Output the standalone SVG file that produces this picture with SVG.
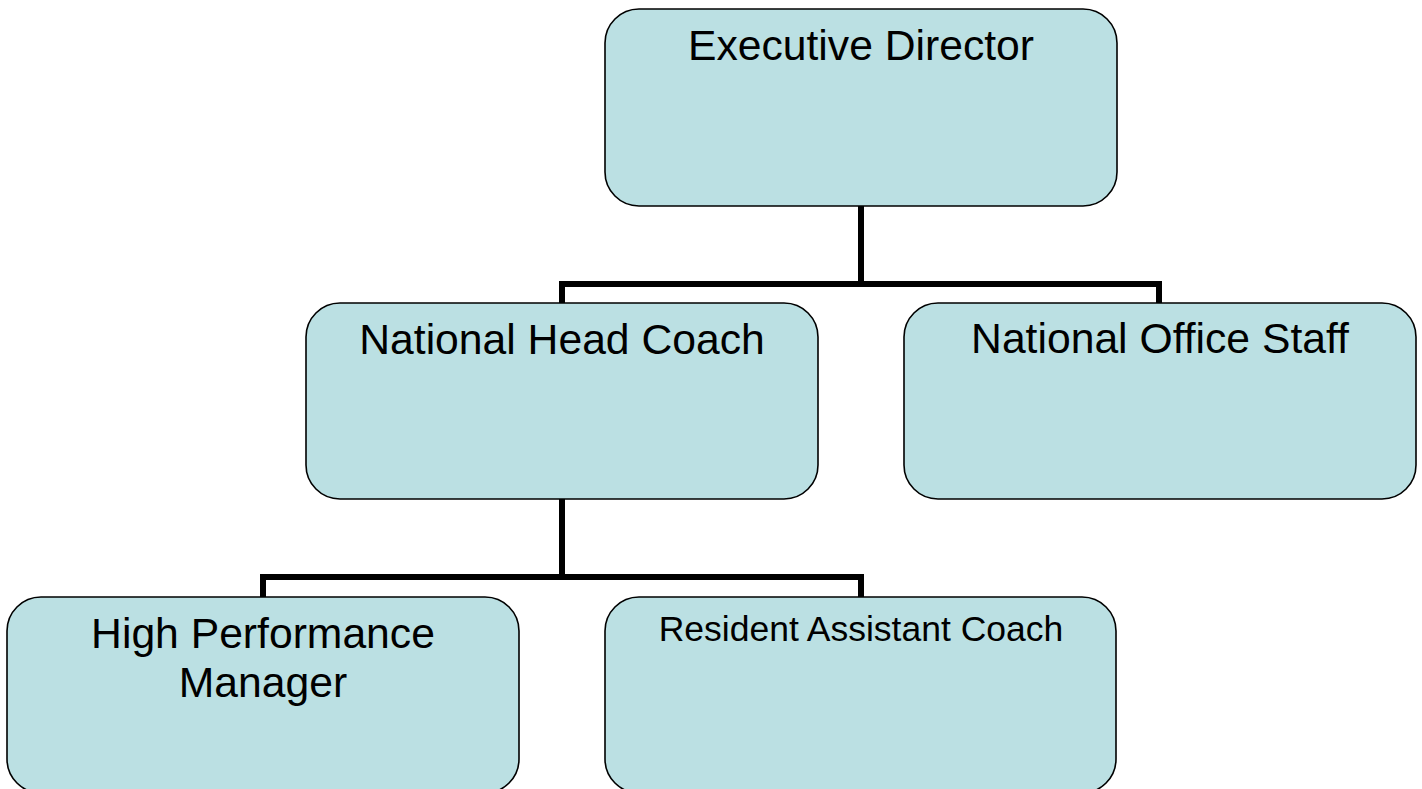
<svg xmlns="http://www.w3.org/2000/svg" width="1422" height="789" viewBox="0 0 1422 789">
<style>
.box{fill:#BBE0E3;stroke:#000;stroke-width:1.6}
.lbl{font-family:"Liberation Sans",Arial,sans-serif;font-size:42.67px;fill:#000;text-anchor:middle}
.sm{font-size:35.5px}
.conn{fill:none;stroke:#000;stroke-width:6;stroke-linecap:square;stroke-linejoin:miter}
</style>
<rect width="1422" height="789" fill="#fff"/>
<g id="connectors">
<path class="conn" d="M861,206 V284 M562,303 V284 H1159 V303"/>
<path class="conn" d="M562,499 V577 M263,597 V577 H861 V597"/>
</g>
<g id="executive-director">
<rect class="box" x="605" y="9" width="512" height="197" rx="34" ry="34"/>
<text class="lbl" x="861" y="60">Executive Director</text>
</g>
<g id="national-head-coach">
<rect class="box" x="306" y="303" width="512" height="196" rx="34" ry="34"/>
<text class="lbl" x="562" y="354">National Head Coach</text>
</g>
<g id="national-office-staff">
<rect class="box" x="904" y="303" width="512" height="196" rx="34" ry="34"/>
<text class="lbl" x="1160" y="353">National Office Staff</text>
</g>
<g id="high-performance-manager">
<rect class="box" x="7" y="597" width="512" height="196" rx="34" ry="34"/>
<text class="lbl" x="263" y="648">High Performance</text>
<text class="lbl" x="263" y="697">Manager</text>
</g>
<g id="resident-assistant-coach">
<rect class="box" x="605" y="597" width="511" height="196" rx="34" ry="34"/>
<text class="lbl sm" x="861" y="641">Resident Assistant Coach</text>
</g>
</svg>
